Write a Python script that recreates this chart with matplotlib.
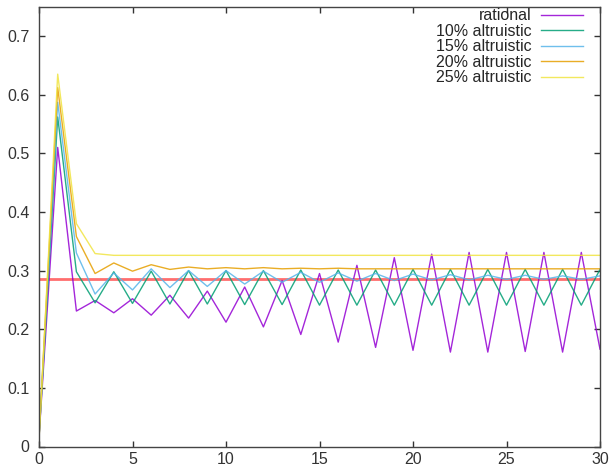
import matplotlib
matplotlib.use("Agg")
import matplotlib.pyplot as plt
import numpy as np

plt.rcParams['font.family'] = ['Liberation Sans', 'DejaVu Sans']

steps = list(range(31))
rational = [0.015, 0.51, 0.231, 0.249, 0.228, 0.252, 0.224, 0.258, 0.219, 0.265, 0.212,
            0.272, 0.204, 0.283, 0.191, 0.295, 0.178, 0.309, 0.169, 0.322, 0.164,
            0.328, 0.161, 0.331, 0.161, 0.331, 0.162, 0.331, 0.161, 0.331, 0.166]
alt10 = [0.015, 0.562, 0.298, 0.245, 0.298, 0.244, 0.299, 0.243, 0.300, 0.243, 0.300,
         0.242, 0.300, 0.242, 0.301, 0.241, 0.301, 0.241, 0.301, 0.241, 0.302,
         0.241, 0.302, 0.241, 0.302, 0.241, 0.302, 0.241, 0.302, 0.241, 0.302]
alt15 = [0.015, 0.587, 0.330, 0.260, 0.296, 0.267, 0.303, 0.271, 0.300, 0.273, 0.300,
         0.277, 0.299, 0.280, 0.297, 0.280, 0.296, 0.282, 0.295, 0.283, 0.294,
         0.284, 0.293, 0.284, 0.292, 0.285, 0.292, 0.285, 0.291, 0.285, 0.291]
alt20 = [0.015, 0.612, 0.358, 0.295, 0.313, 0.299, 0.310, 0.302, 0.306, 0.303, 0.305,
         0.303, 0.305, 0.303, 0.304, 0.303, 0.304, 0.303, 0.303, 0.303, 0.303,
         0.303, 0.303, 0.303, 0.303, 0.303, 0.303, 0.303, 0.303, 0.303, 0.303]
alt25 = [0.010, 0.635, 0.380, 0.329, 0.326, 0.326, 0.326, 0.326, 0.326, 0.326, 0.326,
         0.326, 0.326, 0.326, 0.326, 0.326, 0.326, 0.326, 0.326, 0.326, 0.326,
         0.326, 0.326, 0.326, 0.326, 0.326, 0.326, 0.326, 0.326, 0.326, 0.326]
equilibrium = 2 / 7

labels = ["rational", "10% altruistic", "15% altruistic", "20% altruistic", "25% altruistic"]
series = [rational, alt10, alt15, alt20, alt25]
colors = ["#9400d3", "#009e73", "#56b4e9", "#e69f00", "#f0e442"]
xticks = [0, 5, 10, 15, 20, 25, 30]
yticks = [0, 0.1, 0.2, 0.3, 0.4, 0.5, 0.6, 0.7]
yticklabels = ["0", "0.1", "0.2", "0.3", "0.4", "0.5", "0.6", "0.7"]

fig = plt.figure(figsize=(6.12, 4.66), dpi=100)
ax = fig.add_axes([39/612, 1 - 446.5/466, (600 - 39)/612, (446.5 - 6.7)/466])

ax.axhline(equilibrium, color="#ff3030", lw=2.0, alpha=0.7, zorder=1)
for lab, ys, c in zip(labels, series, colors):
    ax.plot(steps, ys, color=c, lw=1.0, alpha=0.85, label=lab, zorder=2)

ax.set_xlim(0, 30)
ax.set_ylim(0, 0.75)
ax.set_xticks(xticks)
ax.set_yticks(yticks)
ax.set_yticklabels(yticklabels)
ax.tick_params(direction="in", length=4.5, width=1, top=True, right=True,
               labelsize=11.5, colors="#333333")
ax.tick_params(axis="x", pad=4)
ax.tick_params(axis="y", pad=7)
for s in ax.spines.values():
    s.set_color("#444444")
    s.set_linewidth(1)

leg = ax.legend(loc="upper right", frameon=False, markerfirst=False, fontsize=11.5,
                handlelength=2.6, handletextpad=0.6, labelspacing=0.03,
                borderaxespad=0.0, borderpad=0.0, bbox_to_anchor=(0.9697, 0.996))
for t in leg.get_texts():
    t.set_ha("right")
    t.set_color("#262626")
leg._legend_box.align = "right"

fig.savefig("out.png", dpi=100)
